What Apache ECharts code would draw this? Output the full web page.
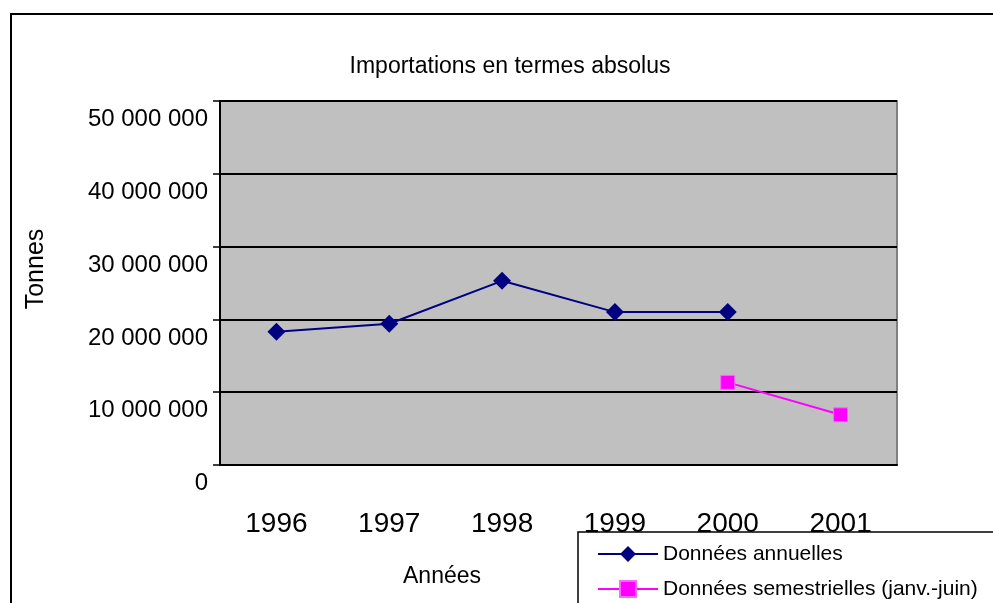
<!DOCTYPE html>
<html>
<head>
<meta charset="utf-8">
<script src="https://cdn.jsdelivr.net/npm/echarts@6/dist/echarts.min.js"></script>
<style>
  html, body { margin: 0; padding: 0; background: #fff; }
  #chart { width: 993px; height: 603px; }
</style>
</head>
<body>
<div id="chart"></div>
<script>
const years = ['1996', '1997', '1998', '1999', '2000', '2001']
const annual = [18300000, 19400000, 25300000, 21000000, 21000000, null]
const halfYear = [null, null, null, null, 11350000, 6900000]
const yTicks = [0, 10000000, 20000000, 30000000, 40000000, 50000000]

const font = 'Liberation Sans, Arial, sans-serif'

// "50 000 000" style, as in the original sheet
const fmt = (v) => String(v).replace(/\B(?=(\d{3})+(?!\d))/g, ' ')

const chart = echarts.init(document.getElementById('chart'))

chart.setOption({
  animation: false,
  textStyle: { fontFamily: font, color: '#000' },
  title: {
    text: 'Importations en termes absolus',
    left: 505,
    top: 50,
    textAlign: 'center',
    textStyle: { fontFamily: font, fontSize: 23, fontWeight: 'normal', color: '#000' }
  },
  grid: { left: 220, top: 101, right: 96, bottom: 138, show: true, backgroundColor: '#c0c0c0', borderColor: '#808080', borderWidth: 2 },
  xAxis: {
    type: 'category',
    data: years,
    boundaryGap: true,
    axisLine: { lineStyle: { color: '#000', width: 2 } },
    axisTick: { length: 9, lineStyle: { color: '#000', width: 1.5 } },
    axisLabel: { fontFamily: font, fontSize: 28, color: '#000', margin: 45 }
  },
  yAxis: {
    type: 'value',
    min: yTicks[0],
    max: yTicks[yTicks.length - 1],
    interval: yTicks[1] - yTicks[0],
    name: 'Tonnes',
    nameLocation: 'middle',
    nameRotate: 90,
    nameGap: 171,
    nameTextStyle: { fontFamily: font, fontSize: 25, color: '#000', padding: [0, 0, 0, 28] },
    axisLine: { show: true, lineStyle: { color: '#000', width: 2 } },
    axisTick: { show: true, length: 7, lineStyle: { color: '#000', width: 1.5 } },
    axisLabel: { fontFamily: font, fontSize: 24, color: '#000', margin: 12, verticalAlign: 'top', lineHeight: 37, formatter: fmt },
    splitLine: { lineStyle: { color: '#000', width: 2 } }
  },
  legend: {
    orient: 'vertical',
    left: 597,
    top: 542,
    padding: 0,
    itemWidth: 60,
    itemHeight: 20,
    itemGap: 11,
    textStyle: { fontFamily: font, fontSize: 21, color: '#000', lineHeight: 24 },
    data: ['Données annuelles', 'Données semestrielles (janv.-juin)']
  },
  graphic: [
    { type: 'rect', shape: { x: 11, y: 14, width: 1200, height: 800 }, style: { fill: 'none', stroke: '#000', lineWidth: 2 }, silent: true, z: -10 },
    { type: 'rect', shape: { x: 578, y: 532, width: 600, height: 200 }, style: { fill: '#fff', stroke: '#000', lineWidth: 1.5 }, silent: true, z: 0 },
    { type: 'text', left: 403, top: 565, style: { text: 'Années', font: '23px ' + font, fill: '#000' }, z: 1 }
  ],
  series: [
    {
      name: 'Données annuelles',
      type: 'line',
      data: annual,
      symbol: 'diamond',
      symbolSize: 18,
      connectNulls: false,
      lineStyle: { color: '#000080', width: 2 },
      itemStyle: { color: '#000080' }
    },
    {
      name: 'Données semestrielles (janv.-juin)',
      type: 'line',
      data: halfYear,
      symbol: 'rect',
      symbolSize: 14,
      lineStyle: { color: '#ff00ff', width: 2 },
      itemStyle: { color: '#ff00ff', borderColor: '#ff66ff', borderWidth: 1 }
    }
  ]
})
</script>
</body>
</html>
